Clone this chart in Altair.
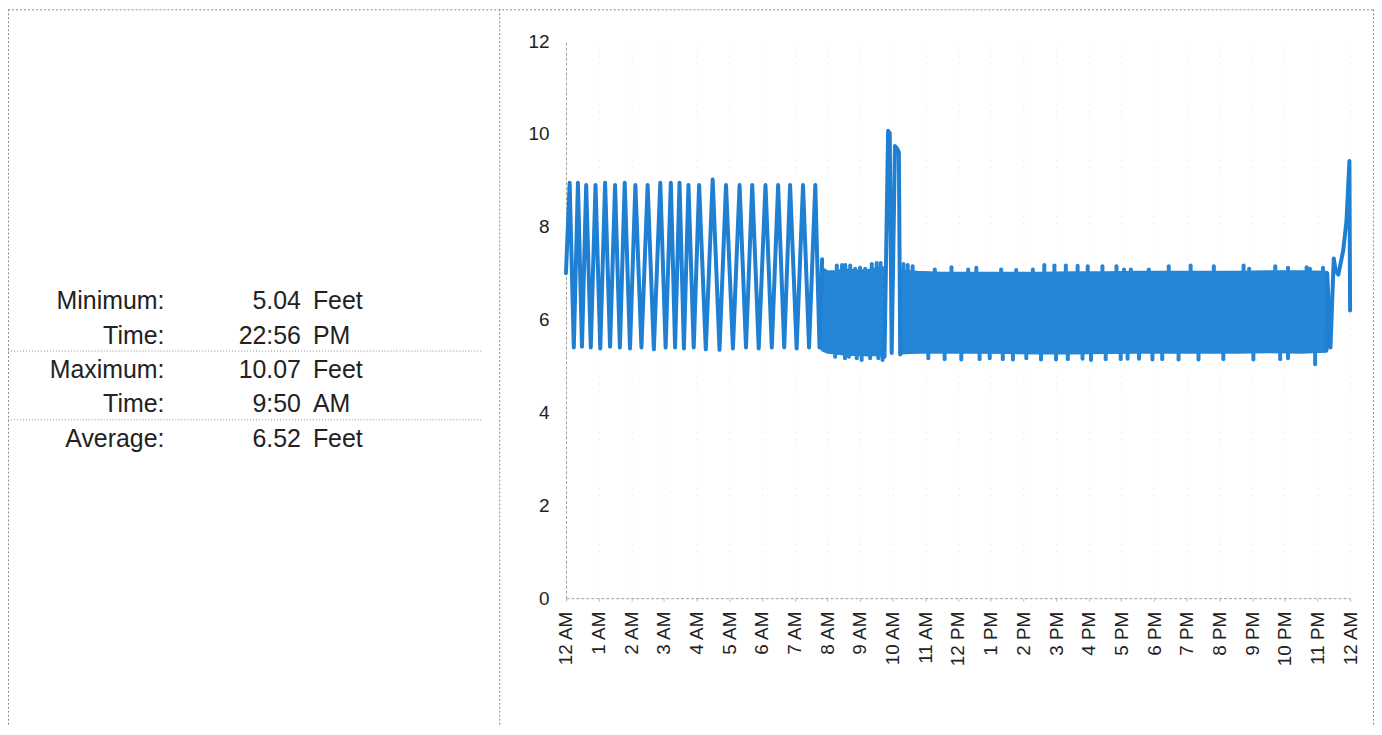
import json
import altair as alt
import pandas as pd

# ---------------- data ----------------
hour_labels = ["12 AM", "1 AM", "2 AM", "3 AM", "4 AM", "5 AM", "6 AM", "7 AM", "8 AM",
               "9 AM", "10 AM", "11 AM", "12 PM", "1 PM", "2 PM", "3 PM", "4 PM", "5 PM",
               "6 PM", "7 PM", "8 PM", "9 PM", "10 PM", "11 PM", "12 AM"]
y_ticks = [0, 2, 4, 6, 8, 10, 12]

# saw-tooth part (midnight to ~7:50 AM)
saw_start = (0.0, 7.0)
saw_peak_hours = [0.113, 0.366, 0.619, 0.905, 1.198, 1.503, 1.799, 2.125, 2.5, 2.887, 3.21, 3.476,
                  3.75, 4.076, 4.491, 4.899, 5.314, 5.701, 6.107, 6.494, 6.86, 7.256, 7.631]
saw_peak_values = [8.95, 8.95, 8.9, 8.9, 8.95, 8.9, 8.95, 8.9, 8.9, 8.95, 8.95, 8.95,
                   8.9, 8.9, 9.02, 8.9, 8.9, 8.9, 8.9, 8.9, 8.9, 8.9, 8.9]
saw_trough_hours = [0.24, 0.49, 0.76, 1.05, 1.35, 1.65, 1.96, 2.31, 2.69, 3.05, 3.34, 3.61,
                    3.91, 4.28, 4.70, 5.11, 5.51, 5.90, 6.30, 6.68, 7.06, 7.44, 7.76]
saw_trough_values = [5.4, 5.42, 5.4, 5.38, 5.42, 5.4, 5.38, 5.4, 5.36, 5.4, 5.4, 5.38,
                     5.4, 5.36, 5.35, 5.38, 5.4, 5.38, 5.4, 5.4, 5.38, 5.4, 5.4]
saw_end = (7.84, 7.3)

# the two tall spikes around 10 AM
spike_hours = [9.70, 9.75, 9.86, 9.91, 9.97, 10.07, 10.14, 10.19, 10.23]
spike_values = [5.22, 5.2, 10.07, 10.02, 5.28, 9.74, 9.68, 9.6, 5.25]

# the end of the day
end_hours = [23.28, 23.30, 23.40, 23.50, 23.56, 23.64, 23.79, 23.89, 23.98, 24.0]
end_values = [5.35, 7.0, 5.4, 7.32, 7.05, 6.97, 7.49, 8.13, 9.42, 6.2]

# dense oscillation bands (lower / upper envelope)
band1_hours = [7.84, 8.0, 8.25, 8.5, 8.75, 9.0, 9.25, 9.5, 9.70]
band1_lower = [5.35, 5.3, 5.28, 5.26, 5.25, 5.25, 5.24, 5.25, 5.22]
band1_upper = [7.1, 7.03, 7.04, 7.07, 7.06, 7.05, 7.06, 7.1, 7.12]
band2_hours = [10.25, 10.75, 11.5, 12.5, 13.5, 14.5, 15.5, 16.5, 17.5, 18.5, 19.5, 20.5, 21.5, 22.5, 23.28]
band2_lower = [5.28, 5.3, 5.3, 5.3, 5.29, 5.28, 5.28, 5.29, 5.3, 5.3, 5.3, 5.3, 5.31, 5.3, 5.32]
band2_upper = [7.05, 7.02, 7.0, 7.0, 7.0, 7.0, 7.01, 7.01, 7.02, 7.02, 7.02, 7.02, 7.03, 7.03, 7.02]

# peaks sticking out above / below the bands
band_top_edge = 7.0
band_bottom_edge = 5.3
top_bump_hours = [8.29, 8.45, 8.55, 8.70, 8.85, 9.00, 9.16, 9.36, 9.51, 9.63,
                  10.33, 10.46, 10.61, 11.29, 11.80, 12.31, 12.56, 13.32, 13.78, 14.29,
                  14.64, 14.95, 15.30, 15.66, 15.97, 16.42, 16.85, 17.08, 17.29, 17.84,
                  18.45, 19.12, 19.83, 20.74, 20.91, 21.71, 22.10, 22.67, 22.77, 23.17]
top_bump_values = [7.17, 7.18, 7.18, 7.17, 7.1, 7.12, 7.1, 7.2, 7.22, 7.22,
                   7.2, 7.18, 7.15, 7.08, 7.13, 7.08, 7.12, 7.08, 7.07, 7.08,
                   7.18, 7.17, 7.17, 7.16, 7.15, 7.15, 7.15, 7.08, 7.08, 7.08,
                   7.15, 7.17, 7.15, 7.17, 7.1, 7.15, 7.12, 7.13, 7.1, 7.12]
bottom_dip_hours = [8.24, 8.54, 8.66, 8.90, 9.05, 9.31, 9.56, 9.69,
                    11.09, 11.59, 12.10, 12.66, 12.97, 13.37, 13.68, 14.09, 14.54, 15.0,
                    15.36, 15.81, 16.07, 16.52, 16.98, 17.19, 17.54, 17.95, 18.25, 18.75,
                    19.36, 20.12, 21.04, 21.86, 22.10, 22.93]
bottom_dip_values = [5.2, 5.17, 5.2, 5.17, 5.13, 5.17, 5.17, 5.13,
                     5.17, 5.15, 5.14, 5.15, 5.17, 5.15, 5.14, 5.17, 5.14, 5.14,
                     5.15, 5.16, 5.13, 5.15, 5.15, 5.16, 5.16, 5.14, 5.15, 5.14,
                     5.14, 5.15, 5.14, 5.15, 5.17, 5.04]

# statistics table
stat_labels = ["Minimum:", "Time:", "Maximum:", "Time:", "Average:"]
stat_values = ["5.04", "22:56", "10.07", "9:50", "6.52"]
stat_units = ["Feet", "PM", "Feet", "AM", "Feet"]

# ---------------- build tables ----------------
line_rows = [("a", saw_start[0], saw_start[1])]
for ph, pv, th, tv in zip(saw_peak_hours, saw_peak_values, saw_trough_hours, saw_trough_values):
    line_rows.append(("a", ph, pv))
    line_rows.append(("a", th, tv))
line_rows.append(("a", saw_end[0], saw_end[1]))
line_rows += [("b", h, v) for h, v in zip(spike_hours, spike_values)]
line_rows += [("c", h, v) for h, v in zip(end_hours, end_values)]
line_df = pd.DataFrame(line_rows, columns=["seg", "hour", "level"])

band_df = pd.concat([
    pd.DataFrame({"seg": "1", "hour": band1_hours, "lower": band1_lower, "upper": band1_upper}),
    pd.DataFrame({"seg": "2", "hour": band2_hours, "lower": band2_lower, "upper": band2_upper}),
])

bump_df = pd.concat([
    pd.DataFrame({"hour": top_bump_hours, "level": top_bump_values, "edge": band_top_edge}),
    pd.DataFrame({"hour": bottom_dip_hours, "level": bottom_dip_values, "edge": band_bottom_edge}),
])

stats_df = pd.DataFrame({"row": list(range(len(stat_labels))), "label": stat_labels,
                         "value": stat_values, "unit": stat_units})
one = pd.DataFrame({"a": [0]})

LINE = "#1e7fd3"
BAND = "#2585d6"
FONT = "Liberation Sans"
TEXT = "#222222"

label_expr = json.dumps(hour_labels) + "[round(datum.value)]"

x_scale = alt.Scale(domain=[0, 24], nice=False, zero=False)
y_scale = alt.Scale(domain=[0, 12], nice=False, zero=True)

x_axis = alt.Axis(values=list(range(25)), tickCount=25, labelExpr=label_expr,
                  labelAngle=270, labelAlign="right", labelBaseline="middle",
                  labelPadding=10, labelFontSize=19, labelFont=FONT, labelColor=TEXT,
                  labelOverlap=False, labelFlush=False, labelBound=False,
                  tickSize=3, tickColor="#bbbbbb", domainColor="#a0a0a0",
                  domainDash=[3, 2], grid=True, gridColor="#e4e4e4",
                  gridDash=[1, 6], title=None)
y_axis = alt.Axis(values=y_ticks, labelFontSize=19, labelFont=FONT, labelColor=TEXT,
                  labelPadding=17, ticks=False, tickSize=0, domainColor="#a0a0a0",
                  domainDash=[3, 2], grid=False, title=None)

band = alt.Chart(band_df).mark_area(color=BAND, stroke=BAND, strokeWidth=3,
                                    strokeJoin="round", opacity=1).encode(
    x=alt.X("hour:Q", scale=x_scale, axis=x_axis),
    y=alt.Y("lower:Q", scale=y_scale, axis=y_axis), y2="upper:Q", detail="seg:N")

bumps = alt.Chart(bump_df).mark_rule(color=BAND, strokeWidth=4, strokeCap="round").encode(
    x=alt.X("hour:Q", scale=x_scale, axis=x_axis),
    y=alt.Y("level:Q", scale=y_scale, axis=y_axis), y2="edge:Q")

line = alt.Chart(line_df).mark_line(color=LINE, strokeWidth=4, strokeCap="round",
                                    strokeJoin="round").encode(
    x=alt.X("hour:Q", scale=x_scale, axis=x_axis),
    y=alt.Y("level:Q", scale=y_scale, axis=y_axis), detail="seg:N")

# frame and dotted separators of the report
frame_style = dict(color="#8a8a8a", strokeDash=[2, 2], strokeWidth=1)
frame = [
    alt.Chart(one).mark_rule(**frame_style).encode(x=alt.value(-559.5), y=alt.value(-32), y2=alt.value(687)),
    alt.Chart(one).mark_rule(**frame_style).encode(x=alt.value(-66.5), y=alt.value(-32), y2=alt.value(687)),
    alt.Chart(one).mark_rule(**frame_style).encode(x=alt.value(810.5), y=alt.value(-32), y2=alt.value(687)),
    alt.Chart(one).mark_rule(**frame_style).encode(x=alt.value(-560), x2=alt.value(811), y=alt.value(-31.5)),
]
sep_style = dict(color="#8f8f8f", strokeDash=[1, 2], strokeWidth=1)
seps = [
    alt.Chart(one).mark_rule(**sep_style).encode(x=alt.value(-560), x2=alt.value(-85), y=alt.value(311)),
    alt.Chart(one).mark_rule(**sep_style).encode(x=alt.value(-560), x2=alt.value(-85), y=alt.value(380)),
]

def stat_col(field, xpix, align):
    return alt.Chart(stats_df).transform_calculate(ypx="269 + 34.5 * datum.row").mark_text(
        font=FONT, fontSize=25, color=TEXT, align=align, baseline="alphabetic").encode(
        x=alt.value(xpix), y=alt.Y("ypx:Q", scale=None), text=f"{field}:N")

stats = [stat_col("label", -403, "right"), stat_col("value", -266, "right"),
         stat_col("unit", -254, "left")]

chart = alt.layer(band, bumps, line, *frame, *seps, *stats).properties(
    width=787, height=559,
    autosize=alt.AutoSizeParams(type="none"),
    padding={"left": 560, "top": 32, "right": 24, "bottom": 128},
    background="white",
).configure_view(strokeWidth=0).configure_axisX(labelOverlap=False)

chart.save("out.html", embed_options={"renderer": "svg", "actions": False})
